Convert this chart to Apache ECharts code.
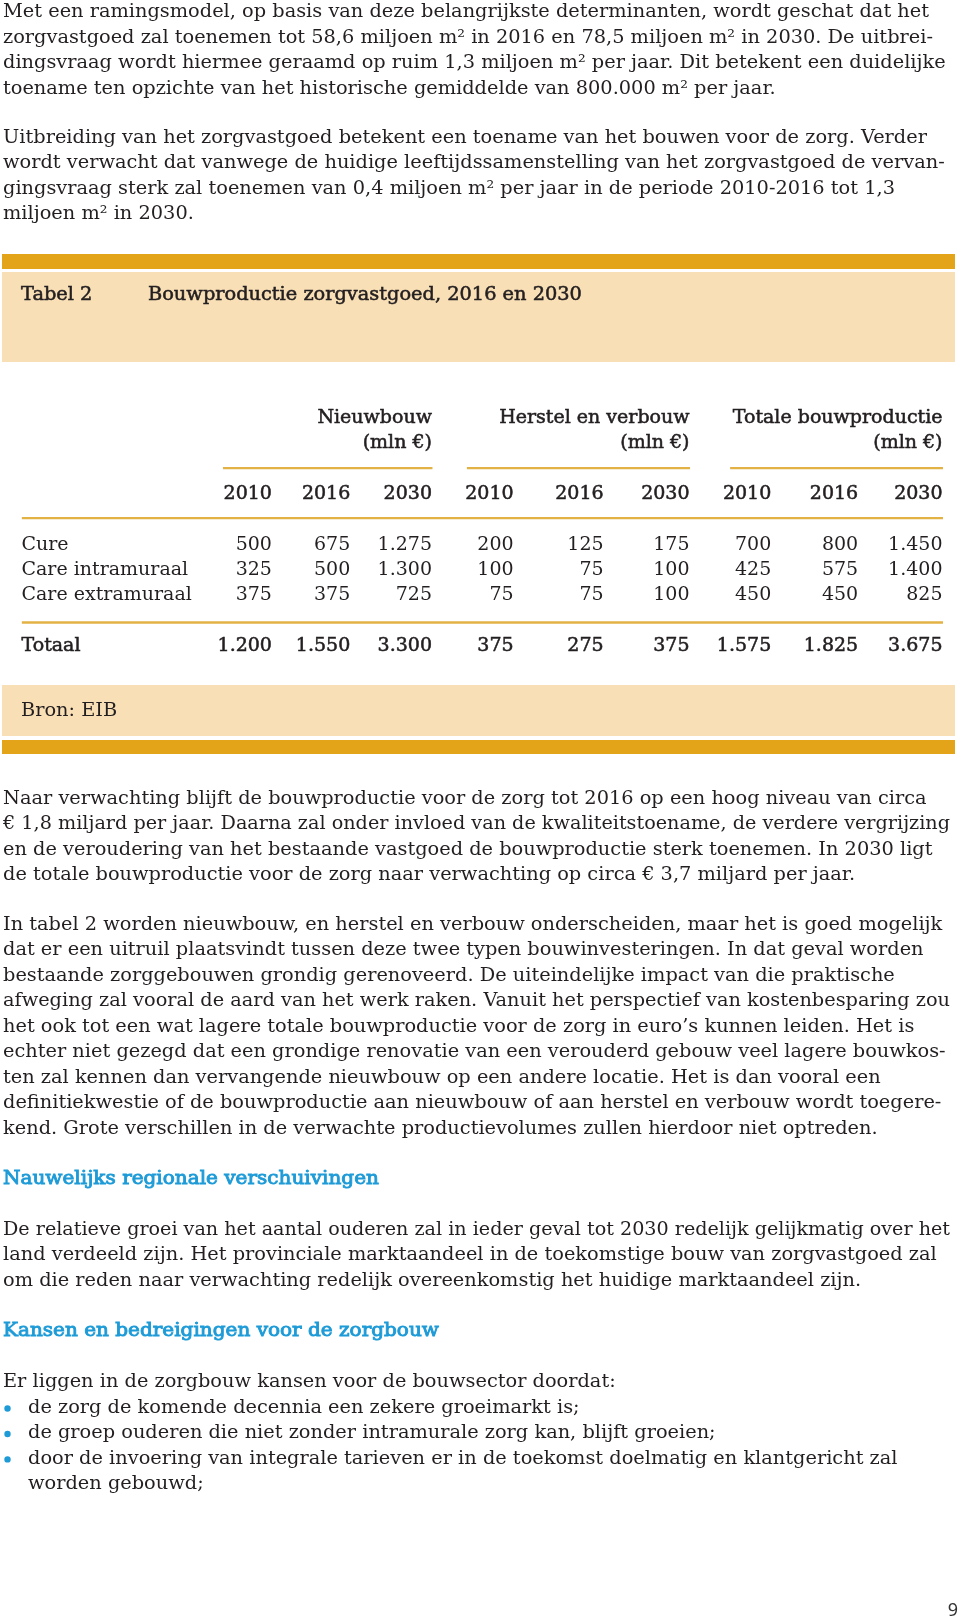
<!DOCTYPE html>
<html>
<head>
<meta charset="utf-8">
<script src="https://cdn.jsdelivr.net/npm/echarts@6/dist/echarts.min.js"></script>
<style>
html,body{margin:0;padding:0;background:#fff;}
#chart{width:960px;height:1622px;}
</style>
</head>
<body>
<div id="chart"></div>
<script>
// ---------- DATA ----------
const tableTitleNo = 'Tabel 2';
const tableTitle = 'Bouwproductie zorgvastgoed, 2016 en 2030';
const groups = ['Nieuwbouw', 'Herstel en verbouw', 'Totale bouwproductie'];
const groupUnit = '(mln €)';
const years = ['2010', '2016', '2030'];
const rowLabels = ['Cure', 'Care intramuraal', 'Care extramuraal', 'Totaal'];
const cure       = [500, 675, 1275, 200, 125, 175, 700, 800, 1450];
const careIntra  = [325, 500, 1300, 100, 75, 100, 425, 575, 1400];
const careExtra  = [375, 375, 725, 75, 75, 100, 450, 450, 825];
const totaal     = [1200, 1550, 3300, 375, 275, 375, 1575, 1825, 3675];
const source = 'Bron: EIB';

const para1 = [
  'Met een ramingsmodel, op basis van deze belangrijkste determinanten, wordt geschat dat het',
  'zorgvastgoed zal toenemen tot 58,6 miljoen m² in 2016 en 78,5 miljoen m² in 2030. De uitbrei-',
  'dingsvraag wordt hiermee geraamd op ruim 1,3 miljoen m² per jaar. Dit betekent een duidelijke',
  'toename ten opzichte van het historische gemiddelde van 800.000 m² per jaar.'
];
const para2 = [
  'Uitbreiding van het zorgvastgoed betekent een toename van het bouwen voor de zorg. Verder',
  'wordt verwacht dat vanwege de huidige leeftijdssamenstelling van het zorgvastgoed de vervan-',
  'gingsvraag sterk zal toenemen van 0,4 miljoen m² per jaar in de periode 2010-2016 tot 1,3',
  'miljoen m² in 2030.'
];
const para3 = [
  'Naar verwachting blijft de bouwproductie voor de zorg tot 2016 op een hoog niveau van circa',
  '€ 1,8 miljard per jaar. Daarna zal onder invloed van de kwaliteitstoename, de verdere vergrijzing',
  'en de veroudering van het bestaande vastgoed de bouwproductie sterk toenemen. In 2030 ligt',
  'de totale bouwproductie voor de zorg naar verwachting op circa € 3,7 miljard per jaar.'
];
const para4 = [
  'In tabel 2 worden nieuwbouw, en herstel en verbouw onderscheiden, maar het is goed mogelijk',
  'dat er een uitruil plaatsvindt tussen deze twee typen bouwinvesteringen. In dat geval worden',
  'bestaande zorggebouwen grondig gerenoveerd. De uiteindelijke impact van die praktische',
  'afweging zal vooral de aard van het werk raken. Vanuit het perspectief van kostenbesparing zou',
  'het ook tot een wat lagere totale bouwproductie voor de zorg in euro’s kunnen leiden. Het is',
  'echter niet gezegd dat een grondige renovatie van een verouderd gebouw veel lagere bouwkos-',
  'ten zal kennen dan vervangende nieuwbouw op een andere locatie. Het is dan vooral een',
  'definitiekwestie of de bouwproductie aan nieuwbouw of aan herstel en verbouw wordt toegere-',
  'kend. Grote verschillen in de verwachte productievolumes zullen hierdoor niet optreden.'
];
const heading1 = 'Nauwelijks regionale verschuivingen';
const para5 = [
  'De relatieve groei van het aantal ouderen zal in ieder geval tot 2030 redelijk gelijkmatig over het',
  'land verdeeld zijn. Het provinciale marktaandeel in de toekomstige bouw van zorgvastgoed zal',
  'om die reden naar verwachting redelijk overeenkomstig het huidige marktaandeel zijn.'
];
const heading2 = 'Kansen en bedreigingen voor de zorgbouw';
const para6 = ['Er liggen in de zorgbouw kansen voor de bouwsector doordat:'];
const bullets = [
  ['de zorg de komende decennia een zekere groeimarkt is;'],
  ['de groep ouderen die niet zonder intramurale zorg kan, blijft groeien;'],
  ['door de invoering van integrale tarieven er in de toekomst doelmatig en klantgericht zal', 'worden gebouwd;']
];
const pageNumber = '9';

// ---------- STYLE / LAYOUT ----------
const FONT_FAMILY = '"DejaVu Serif", serif';
const FS = 19;
const TEXT = '#231F20';
const BLUE = '#1E9BD7';
const GOLD = '#E4A41A';
const RULE = '#E3B245';
const BEIGE = '#F8DFB6';
const LH = 25.45;
const SEMI = 0.55;          // stroke width used to imitate a semibold weight
const MAX_RIGHT = 950;      // right margin of the text block

function fmt(n) {
  if (n >= 1000) return Math.floor(n / 1000) + '.' + String(n % 1000).padStart(3, '0');
  return String(n);
}

// horizontal fit of the body font to the original typesetting
const ctx = document.createElement('canvas').getContext('2d');
ctx.font = FS + 'px ' + FONT_FAMILY;
const refWidth = ctx.measureText(para1[0]).width;
const SX = Math.max(0.85, Math.min(1.2, 926 / refWidth));

const graphics = [];
function addLines(lines, x, y0, opts) {
  opts = opts || {};
  lines.forEach((t, i) => {
    const w = ctx.measureText(t).width;
    const sx = Math.min(SX * (opts.widen || 1), (MAX_RIGHT - x) / w);
    const st = {
      text: t, fill: opts.color || TEXT,
      font: 'normal ' + FS + 'px ' + FONT_FAMILY,
      textAlign: 'left', textVerticalAlign: 'middle',
      align: 'left', verticalAlign: 'middle'
    };
    if (opts.semi) { st.stroke = opts.color || TEXT; st.lineWidth = opts.semi; }
    graphics.push({ type: 'text', x: x, y: y0 + i * LH, scaleX: sx, silent: true, style: st });
  });
}

// boxes
graphics.push({ type: 'rect', silent: true, shape: { x: 2, y: 254, width: 953, height: 15 }, style: { fill: GOLD } });
graphics.push({ type: 'rect', silent: true, shape: { x: 2, y: 272, width: 953, height: 90 }, style: { fill: BEIGE } });
graphics.push({ type: 'rect', silent: true, shape: { x: 2, y: 685, width: 953, height: 51 }, style: { fill: BEIGE } });
graphics.push({ type: 'rect', silent: true, shape: { x: 2, y: 740, width: 953, height: 14 }, style: { fill: GOLD } });

addLines(para1, 3, 12.5);
addLines(para2, 3, 138);
addLines([tableTitleNo], 21, 295, { semi: SEMI });
addLines([tableTitle], 148, 295, { semi: SEMI });
addLines([source], 21, 711);
addLines(para3, 3, 799);
addLines(para4, 3, 925);
addLines([heading1], 3, 1179, { color: BLUE, semi: 0.9, widen: 1.035 });
addLines(para5, 3, 1230);
addLines([heading2], 3, 1331, { color: BLUE, semi: 0.9, widen: 1.035 });
addLines(para6, 3, 1382);
let by = 1408;
bullets.forEach(b => {
  graphics.push({ type: 'circle', silent: true, shape: { cx: 7.5, cy: by + 0.5, r: 3.2 }, style: { fill: BLUE } });
  addLines(b, 28, by);
  by += b.length * LH;
});
graphics.push({
  type: 'text', x: 958, y: 1611, silent: true,
  style: { text: pageNumber, fill: '#333', font: '18px "Noto Sans", sans-serif',
    textAlign: 'right', textVerticalAlign: 'middle', align: 'right', verticalAlign: 'middle' }
});

// ---------- TABLE (drawn through cartesian scales) ----------
// x: column position in axis units (-3 = row label column, value columns right aligned)
// y: row index (0..2 data rows, 4 = total, -2 years, -4/-5 headers)
const COL_POS = [0, 0.934, 1.909, 2.883, 3.957, 4.982, 5.957, 6.994, 8.0];
const dataRows = [cure, careIntra, careExtra, totaal];
const rowPos = [0, 1, 2, 4];
const semiLabel = { textBorderColor: TEXT, textBorderWidth: SEMI };
const cellData = [];
dataRows.forEach((arr, r) => {
  arr.forEach((v, c) => {
    cellData.push({
      value: [COL_POS[c], rowPos[r], v],
      label: r === 3 ? semiLabel : {}
    });
  });
});
const rowLabelData = rowLabels.map((l, r) => ({
  value: [-3, rowPos[r]], name: l,
  label: r === 3 ? semiLabel : {}
}));
const headerData = [];
groups.forEach((g, gi) => {
  headerData.push({ value: [COL_POS[gi * 3 + 2], -5], name: g });
  headerData.push({ value: [COL_POS[gi * 3 + 2], -4], name: groupUnit });
  years.forEach((y, yi) => headerData.push({ value: [COL_POS[gi * 3 + yi], -2], name: y }));
});

const groupRuleStart = [-0.59, 2.32, 5.46];
const ruleSeries = groups.map((g, gi) => ({
  type: 'line', silent: true, symbol: 'none', animation: false,
  lineStyle: { color: RULE, width: 2.2 },
  data: [[groupRuleStart[gi], -3.02], [COL_POS[gi * 3 + 2], -3.02]]
}));
ruleSeries.push({
  type: 'line', silent: true, symbol: 'none', animation: false,
  lineStyle: { color: RULE, width: 2.2 },
  data: [[-2.99, -1.05], [8, -1.05]]
});
ruleSeries.push({
  type: 'line', silent: true, symbol: 'none', animation: false,
  lineStyle: { color: RULE, width: 2.4 },
  data: [[-2.99, 3.07], [8, 3.07]]
});

const baseLabel = {
  show: true, distance: 0, color: TEXT,
  fontFamily: FONT_FAMILY, fontSize: FS
};
const invisible = { color: 'rgba(0,0,0,0)', opacity: 1 };

const option = {
  animation: false,
  backgroundColor: '#ffffff',
  grid: { left: 21, right: 17, top: 418, height: 228, containLabel: false },
  xAxis: { type: 'value', min: -3, max: 8, show: false },
  yAxis: { type: 'value', min: -5, max: 4, inverse: true, show: false },
  graphic: { elements: graphics },
  series: [
    {
      type: 'scatter', symbolSize: 1, itemStyle: invisible, silent: true, clip: false,
      data: cellData,
      label: Object.assign({}, baseLabel, { position: 'left', formatter: p => fmt(p.value[2]) })
    },
    {
      type: 'scatter', symbolSize: 1, itemStyle: invisible, silent: true, clip: false,
      data: rowLabelData,
      label: Object.assign({}, baseLabel, { position: 'right', formatter: p => p.name })
    },
    {
      type: 'scatter', symbolSize: 1, itemStyle: invisible, silent: true, clip: false,
      data: headerData,
      label: Object.assign({}, baseLabel, semiLabel, { position: 'left', formatter: p => p.name })
    }
  ].concat(ruleSeries)
};

const chart = echarts.init(document.getElementById('chart'), null, { renderer: 'canvas' });
chart.setOption(option);
</script>
</body>
</html>
